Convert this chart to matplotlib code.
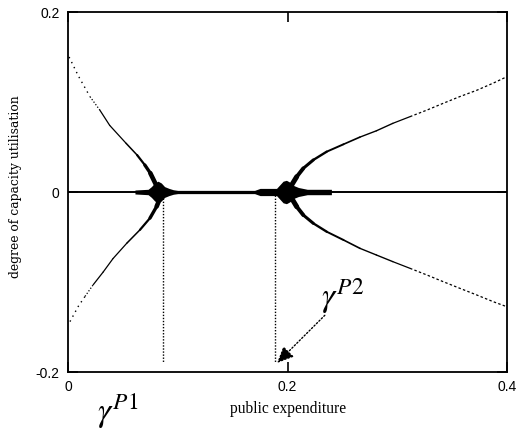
import matplotlib
matplotlib.use("Agg")
import matplotlib.pyplot as plt
from matplotlib.collections import LineCollection
import numpy as np

plt.rcParams['mathtext.fontset'] = 'stix'

# ---- data ----
left_up_x = [0.001, 0.0094, 0.020, 0.029, 0.038, 0.053, 0.063, 0.070, 0.075, 0.081]
left_up_y = [0.150, 0.129, 0.106, 0.091, 0.074, 0.054, 0.041, 0.030, 0.021, 0.006]
left_lo_x = [0.0018, 0.0094, 0.0155, 0.023, 0.032, 0.041, 0.0535, 0.0656, 0.0747, 0.0808, 0.0838]
left_lo_y = [-0.144, -0.127, -0.116, -0.103, -0.089, -0.074, -0.057, -0.042, -0.029, -0.016, -0.007]

right_x = [0.2038, 0.2084, 0.2144, 0.2235, 0.2357, 0.251, 0.266, 0.281, 0.296, 0.3116,
           0.327, 0.342, 0.357, 0.3724, 0.3875, 0.3997]
right_up = [0.0078, 0.017, 0.0263, 0.0356, 0.0448, 0.053, 0.061, 0.068, 0.0763, 0.0837,
            0.091, 0.0986, 0.106, 0.113, 0.121, 0.128]
right_lo = [-0.007, -0.0163, -0.0256, -0.0348, -0.0441, -0.0533, -0.0626, -0.070, -0.0774, -0.0848,
            -0.0922, -0.0997, -0.107, -0.1144, -0.1219, -0.1274]

# thickness envelope of the band of points along zero
band_x = [0.061, 0.073, 0.076, 0.079, 0.082, 0.085, 0.088, 0.092, 0.096, 0.100,
          0.170, 0.175, 0.190, 0.193, 0.196, 0.199, 0.202, 0.206, 0.210, 0.214, 0.218, 0.240]
band_h = [0.0022, 0.003, 0.006, 0.010, 0.012, 0.010, 0.006, 0.004, 0.0025, 0.0018,
          0.0018, 0.004, 0.004, 0.008, 0.012, 0.013, 0.011, 0.007, 0.005, 0.004, 0.003, 0.003]

gamma_p1 = 0.0866
gamma_p2 = 0.189

xticks = [0, 0.2, 0.4]
xtick_labels = ['0', '0.2', '0.4']
yticks = [-0.2, 0, 0.2]
ytick_labels = ['-0.2', '0', '0.2']

# ---- figure ----
fig = plt.figure(figsize=(5.22, 4.29), dpi=100)
ax = fig.add_axes([68/522, 57/429, 439/522, 360/429])
ax.set_xlim(0, 0.4)
ax.set_ylim(-0.2, 0.2)

# zero line
ax.plot([0, 0.4], [0, 0], color='black', lw=1.4)

# band of points along zero
bx = np.array(band_x)
bh = np.array(band_h)
ax.fill_between(bx, -bh, bh, color='black', lw=0)


def tapered(xs, ys, widths, **kw):
    pts = np.column_stack([xs, ys]).reshape(-1, 1, 2)
    segs = np.concatenate([pts[:-1], pts[1:]], axis=1)
    lc = LineCollection(segs, linewidths=widths, colors='black', capstyle='round', **kw)
    ax.add_collection(lc)


# left branches: sparse dots far away, thin solid nearer, thickening into the blob
for xs, ys in ((left_up_x, left_up_y), (left_lo_x, left_lo_y)):
    xs = np.array(xs); ys = np.array(ys)
    n = len(xs)
    ax.plot(xs[:3], ys[:3], color='black', lw=1.0, linestyle=(0, (1, 3)))
    ax.plot(xs[2:4], ys[2:4], color='black', lw=0.9, linestyle=(0, (1, 1.5)))
    nseg = n - 4
    w = [0.9] * (nseg - 4) + [1.1, 1.6, 2.4, 3.3]
    tapered(xs[3:], ys[3:], w)

# right branches: thick near the blob, solid, then dashed
for ys in (right_up, right_lo):
    xs = np.array(right_x); ys = np.array(ys)
    w = [3.6, 2.8, 2.2, 1.7, 1.4, 1.2, 1.0, 1.0, 0.9]
    tapered(xs[:10], ys[:10], w)
    ax.plot(xs[9:], ys[9:], color='black', lw=0.9, linestyle=(0, (2, 1.8)))

# dotted vertical lines
ax.plot([gamma_p1, gamma_p1], [0, -0.19], color='black', lw=1.0, linestyle=(0, (1, 1.2)))
ax.plot([gamma_p2, gamma_p2], [0, -0.19], color='black', lw=1.0, linestyle=(0, (1, 1.2)))

# arrow
ax.annotate('', xy=(0.1905, -0.19), xytext=(0.234, -0.137),
            arrowprops=dict(arrowstyle='-|>,head_length=1.0,head_width=0.45',
                            linestyle=(0, (1, 1.5)), color='black', lw=1.0,
                            shrinkA=0, shrinkB=0))

# ticks
ax.set_xticks(xticks)
ax.set_xticklabels(xtick_labels)
ax.set_yticks(yticks)
ax.set_yticklabels(ytick_labels)
ax.tick_params(direction='in', length=7, width=1.2, top=True, right=True,
               labelsize=10, pad=6)
for lab in ax.get_xticklabels() + ax.get_yticklabels():
    lab.set_fontfamily('Liberation Sans')
for s in ax.spines.values():
    s.set_linewidth(1.3)

fig.text(288/522, 1 - 409/429, 'public expenditure', ha='center', va='center',
         fontsize=11.2, family='Liberation Serif')
fig.text(16/522, 1 - 187/429, 'degree of capacity utilisation', ha='center', va='center',
         rotation=90, fontsize=8.9, family='DejaVu Serif')

fig.text(343/522, 1 - 296/429, r'$\gamma^{P2}$', ha='center', va='center', fontsize=24)
fig.text(118/522, 1 - 411/429, r'$\gamma^{P1}$', ha='center', va='center', fontsize=24)

fig.savefig('out.png', dpi=100)
